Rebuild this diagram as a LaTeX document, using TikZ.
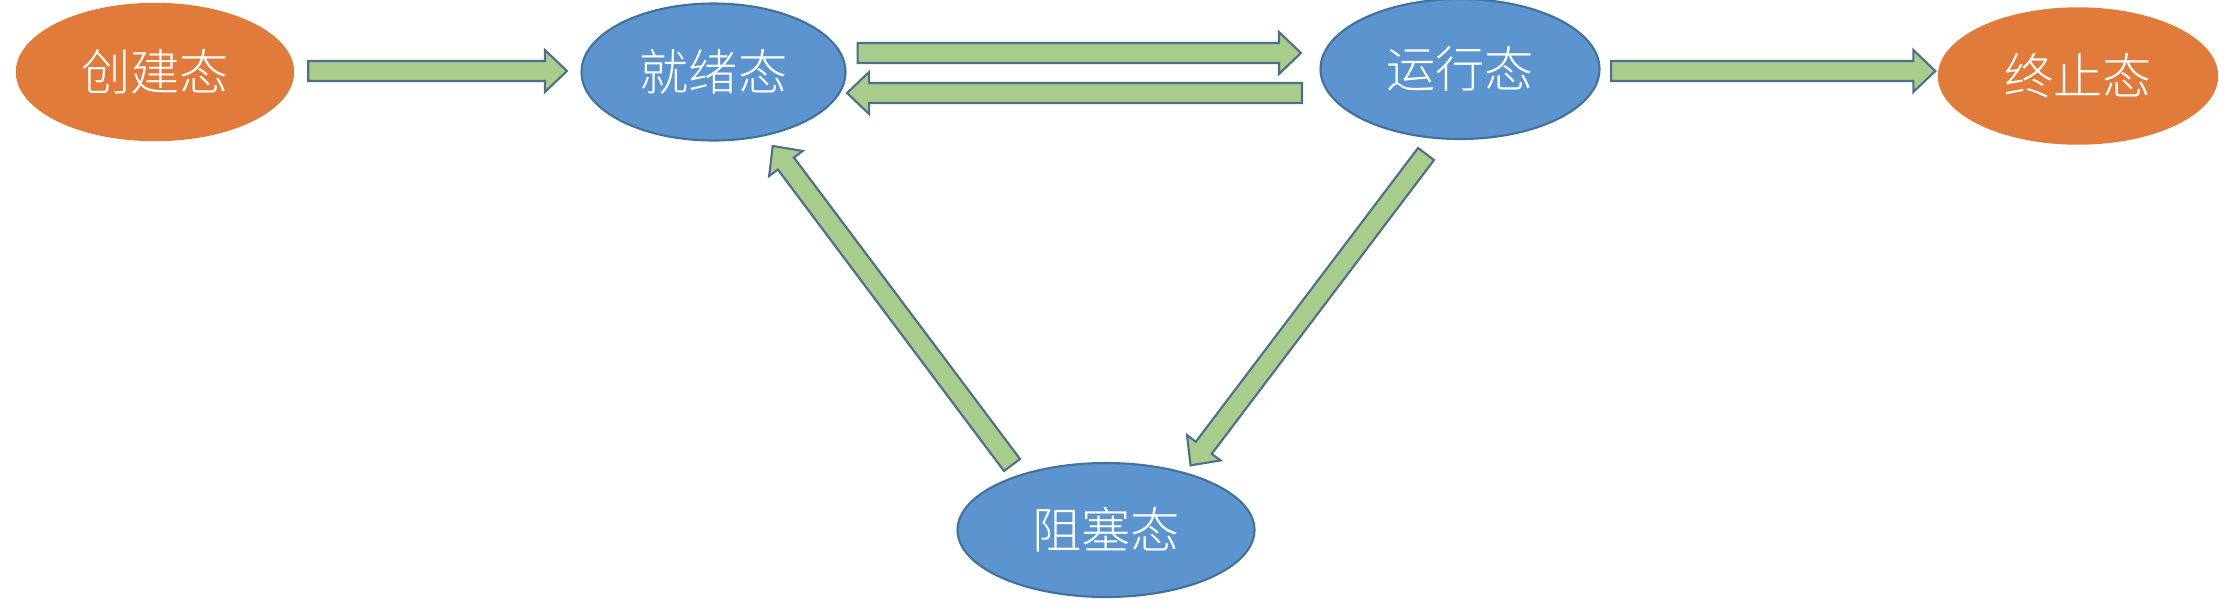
\documentclass[tikz,border=0pt]{standalone}
\usepackage{fontspec}
\newfontfamily\cjk{Noto Sans CJK SC Light}
\usetikzlibrary{shapes.geometric,calc}
\definecolor{stateorange}{HTML}{E07B3C}
\definecolor{stateblue}{HTML}{5B94CF}
\definecolor{blueline}{HTML}{41719C}
\definecolor{arrowgreen}{HTML}{A8CC8C}
\definecolor{arrowline}{HTML}{4E6E8A}
\tikzset{
  state/.style={ellipse,inner sep=0pt,text=white,font=\cjk\fontsize{14}{16}\selectfont},
  endstate/.style={state,fill=stateorange,draw=stateorange},
  midstate/.style={state,fill=stateblue,draw=blueline,line width=0.6pt},
  blockarrow/.style={fill=arrowgreen,draw=arrowline,line width=0.6pt,line join=miter}
}
\newcommand{\shaftw}{0.1cm}
\newcommand{\headw}{0.21cm}
\newcommand{\headl}{0.22cm}
% block arrow from #1 to #2
\newcommand{\blockarr}[2]{%
  \draw[blockarrow] let \p1=($(#2)-(#1)$), \n1={atan2(\y1,\x1)}, \n2={veclen(\x1,\y1)} in
    [shift={(#1)},rotate=\n1]
    (0,-\shaftw) -- ({\n2-\headl},-\shaftw) -- ({\n2-\headl},-\headw) -- (\n2,0)
    -- ({\n2-\headl},\headw) -- ({\n2-\headl},\shaftw) -- (0,\shaftw) -- cycle;}
\begin{document}
\begin{tikzpicture}
\useasboundingbox (0,0) rectangle (22.38,6.05);
\node[endstate,minimum width=2.77cm,minimum height=1.37cm] (cj) at (1.55,5.33) {创建态};
\node[midstate,minimum width=2.64cm,minimum height=1.37cm] (jx) at (7.135,5.33) {就绪态};
\node[midstate,minimum width=2.79cm,minimum height=1.40cm] (yx) at (14.60,5.36) {运行态};
\node[endstate,minimum width=2.79cm,minimum height=1.36cm] (zz) at (20.78,5.29) {终止态};
\node[midstate,minimum width=2.97cm,minimum height=1.34cm] (zs) at (11.06,0.75) {阻塞态};
% arrow ends
\coordinate (cj-out) at ($(cj.east)+(0.14,0.01)$);
\coordinate (jx-in) at ($(jx.west)+(-0.135,0.01)$);
\coordinate (jx-out) at ($(jx.east)+(0.11,0.19)$);
\coordinate (yx-in) at ($(yx.west)+(-0.185,0.16)$);
\coordinate (yx-back) at ($(yx.west)+(-0.175,-0.24)$);
\coordinate (jx-back) at ($(jx.east)+(0.005,-0.21)$);
\coordinate (yx-out) at ($(yx.east)+(0.105,-0.02)$);
\coordinate (zz-in) at ($(zz.west)+(-0.025,0.05)$);
\coordinate (zs-up) at ($(zs.center)+(-0.94,0.65)$);
\coordinate (jx-up) at ($(jx.center)+(0.585,-0.73)$);
\coordinate (yx-down) at ($(yx.center)+(-0.34,-0.85)$);
\coordinate (zs-down) at ($(zs.center)+(0.84,0.64)$);
\blockarr{cj-out}{jx-in}
\blockarr{jx-out}{yx-in}
\blockarr{yx-back}{jx-back}
\blockarr{yx-out}{zz-in}
\blockarr{zs-up}{jx-up}
\blockarr{yx-down}{zs-down}
\end{tikzpicture}
\end{document}
